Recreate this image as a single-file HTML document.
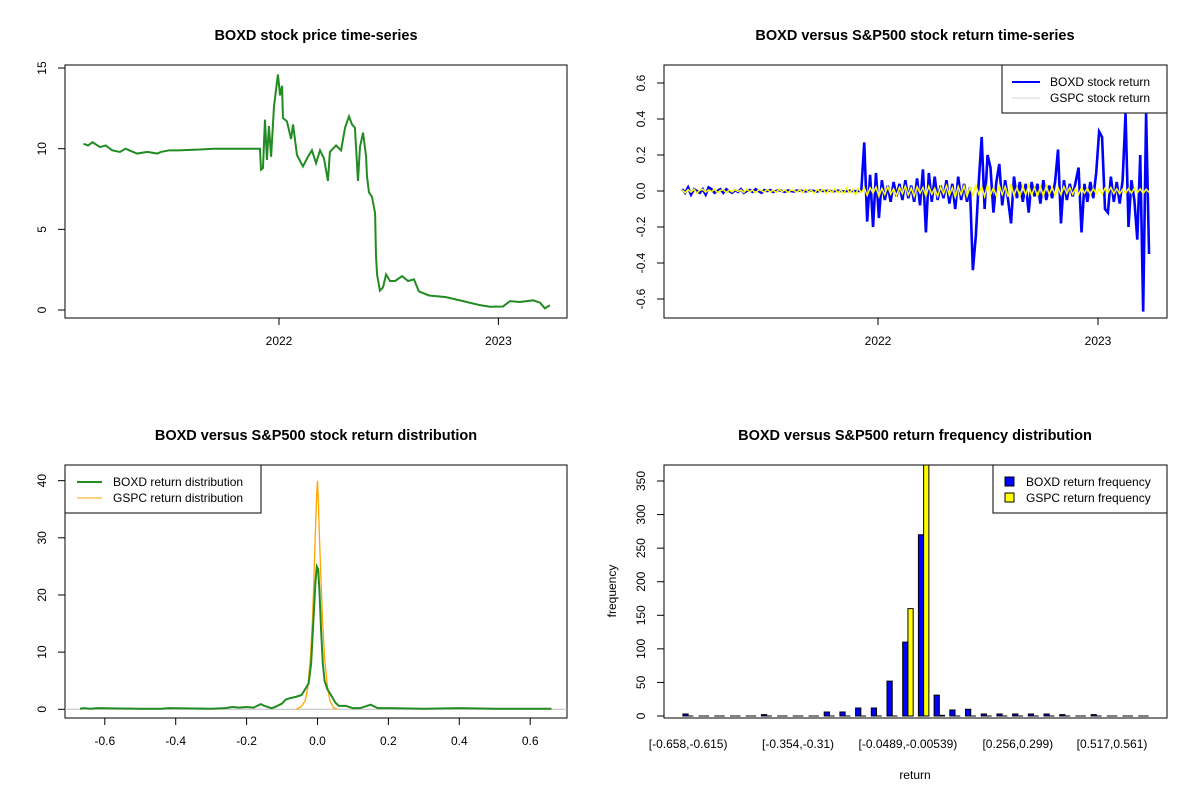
<!DOCTYPE html>
<html><head><meta charset="utf-8"><style>
html,body{margin:0;padding:0;background:#fff}
svg{display:block;font-family:"Liberation Sans",Arial,sans-serif}
</style></head><body>
<svg id="c" width="1200" height="800" viewBox="0 0 1200 800" xmlns="http://www.w3.org/2000/svg"></svg>
<script>
// ---------- Panel 1: price ----------
const priceDates=[2021.109,2021.130,2021.150,2021.184,2021.210,2021.240,2021.275,2021.300,2021.353,2021.400,2021.444,2021.462,2021.500,2021.540,2021.640,2021.700,2021.822,2021.913,2021.918,2021.927,2021.936,2021.945,2021.954,2021.964,2021.977,2021.995,2022.005,2022.014,2022.018,2022.036,2022.055,2022.064,2022.082,2022.109,2022.132,2022.150,2022.169,2022.187,2022.205,2022.223,2022.232,2022.260,2022.283,2022.301,2022.319,2022.333,2022.346,2022.360,2022.369,2022.383,2022.397,2022.401,2022.410,2022.424,2022.438,2022.442,2022.447,2022.460,2022.474,2022.488,2022.506,2022.529,2022.561,2022.588,2022.615,2022.638,2022.684,2022.761,2022.839,2022.916,2022.962,2023.021,2023.053,2023.098,2023.158,2023.190,2023.212,2023.235];
const priceValues=[10.3,10.2,10.4,10.1,10.2,9.9,9.8,10.0,9.7,9.8,9.7,9.8,9.9,9.9,9.95,10.0,10.0,10.0,8.7,8.8,11.8,9.3,11.4,9.5,12.6,14.6,13.3,13.9,11.9,11.7,10.6,11.5,9.6,8.9,9.5,9.9,9.1,9.9,9.4,8.0,9.8,10.2,9.9,11.3,12.0,11.5,11.3,8.0,10.1,11.0,9.5,8.3,7.3,7.0,6.0,3.4,2.2,1.2,1.4,2.2,1.8,1.8,2.1,1.8,1.9,1.15,0.9,0.8,0.55,0.3,0.2,0.22,0.55,0.5,0.6,0.45,0.1,0.3];
const priceYTicks=[0,5,10,15];
const yearTicks=[2022,2023];
// ---------- Panel 2: returns ----------
const retStart=2021.11, retEnd=2023.232;
const boxdReturns=[0.01,-0.01,0.02,-0.02,0.01,0,-0.01,0.01,-0.02,0.02,0.01,-0.01,0,0.01,-0.01,0.01,0,-0.01,0.005,-0.005,
0.01,-0.01,0,0.005,-0.005,0.01,0,-0.01,0.005,0,0.005,-0.005,0,0.005,0,-0.005,0.003,0,-0.003,0.002,
0.003,0,-0.002,0,0.002,0,-0.003,0.003,0,0,0.002,-0.002,0,0.002,0,-0.002,0,0.001,0,-0.001,0,0.001,
0.27,-0.17,0.09,-0.2,0.1,-0.15,0.06,-0.05,0.03,-0.06,0.05,-0.03,0.04,-0.05,0.06,-0.04,0.03,-0.06,0.07,-0.08,
0.12,-0.23,0.1,-0.06,0.08,-0.05,0.03,-0.04,0.06,-0.07,0.04,-0.1,0.08,-0.05,0.04,-0.06,0.02,-0.44,-0.25,0.05,
0.3,-0.1,0.2,0.13,-0.12,0.05,0.15,-0.08,0.06,-0.05,-0.18,0.08,-0.04,0.05,-0.06,0.04,-0.12,0.05,-0.03,0.04,
-0.07,0.06,-0.05,0.03,-0.04,0.05,0.23,-0.18,0.06,-0.05,0.04,-0.03,0.05,0.13,-0.23,0.04,-0.06,0.05,-0.04,0.1,
0.33,0.3,-0.1,-0.12,0.08,-0.06,0.05,-0.07,0.06,0.43,-0.2,0.06,-0.05,-0.27,0.2,-0.67,0.43,-0.35];
const gspcReturns=[0.005,-0.01,0.008,-0.006,0.01,-0.012,0.004,0.009,-0.007,0.006,-0.004,0.011,-0.009,0.003,0.007,-0.01,0.006,-0.005,0.008,-0.003,
0.006,-0.008,0.01,-0.004,0.005,-0.011,0.007,0.002,-0.006,0.009,-0.005,0.004,-0.008,0.01,-0.003,0.006,-0.009,0.005,0.003,-0.007,
0.008,-0.01,0.012,-0.006,0.004,-0.013,0.009,-0.005,0.011,-0.014,0.007,-0.008,0.013,-0.01,0.006,-0.015,0.018,-0.012,0.01,-0.02,0.015,-0.01,
0.02,-0.025,0.018,-0.012,0.022,-0.03,0.015,-0.02,0.025,-0.018,0.012,-0.026,0.02,-0.015,0.028,-0.022,0.017,-0.03,0.024,-0.012,
0.02,-0.028,0.026,-0.018,0.015,-0.03,0.022,-0.016,0.03,-0.024,0.018,-0.035,0.025,-0.02,0.028,-0.03,0.02,-0.025,0.032,-0.018,
0.024,-0.03,0.035,-0.022,0.018,-0.028,0.03,-0.02,0.025,-0.032,0.04,-0.026,0.02,-0.03,0.028,-0.022,0.034,-0.025,0.02,-0.03,
0.025,-0.028,0.03,-0.02,0.022,-0.025,0.018,-0.02,0.024,-0.015,0.02,-0.018,0.015,-0.02,0.018,-0.012,0.016,-0.02,0.014,-0.015,
0.012,-0.018,0.015,-0.01,0.02,-0.015,0.012,-0.016,0.01,-0.014,0.013,-0.012,0.016,-0.01,0.012,-0.014,0.01,-0.008];
const retYTicks=[-0.6,-0.4,-0.2,0.0,0.2,0.4,0.6];
// ---------- Panel 3: density ----------
const boxdDensX=[-0.67,-0.66,-0.64,-0.62,-0.5,-0.44,-0.42,-0.3,-0.26,-0.24,-0.22,-0.2,-0.18,-0.16,-0.15,-0.13,-0.12,-0.1,-0.09,-0.08,-0.06,-0.045,-0.035,-0.025,-0.018,-0.012,-0.006,-0.002,0.002,0.006,0.01,0.015,0.02,0.028,0.038,0.05,0.06,0.08,0.1,0.12,0.15,0.17,0.2,0.3,0.4,0.5,0.66];
const boxdDensY=[0.1,0.2,0.1,0.2,0.1,0.1,0.2,0.1,0.2,0.4,0.3,0.4,0.3,0.9,0.6,0.2,0.4,1.0,1.7,1.9,2.2,2.5,3.5,4.5,8,15,22,25,24.5,20,14,8,5,3.5,2.5,1.2,0.6,0.6,0.2,0.2,0.8,0.2,0.2,0.1,0.2,0.1,0.1];
const gspcDensX=[-0.06,-0.045,-0.035,-0.028,-0.02,-0.014,-0.009,-0.005,-0.002,0,0.002,0.005,0.009,0.014,0.02,0.028,0.035,0.045,0.055];
const gspcDensY=[0,0.5,1.5,3.5,9,16,25,33,38,40,37,31,24,16,9,4,1.5,0.3,0];
const densXTicks=[-0.6,-0.4,-0.2,0.0,0.2,0.4,0.6];
const densYTicks=[0,10,20,30,40];
// ---------- Panel 4: histogram ----------
const binLabels=["[-0.658,-0.615)","[-0.354,-0.31)","[-0.0489,-0.00539)","[0.256,0.299)","[0.517,0.561)"];
const binLabelIdx=[0,7,14,21,27];
const boxdFreq=[3,0,0,0,0,2,0,0,0,6,6,12,12,52,110,270,31,9,10,3,3,3,3,3,2,0,2,0,0,0];
const gspcFreq=[0,0,0,0,0,0,0,0,0,0,0,0,0,0,160,390,1,0,0,0,0,0,0,0,0,0,0,0,0,0];
const freqYTicks=[0,50,100,150,200,250,300,350];

const NS="http://www.w3.org/2000/svg";
const svg=document.getElementById('c');
function mk(tag,attrs,parent){const e=document.createElementNS(NS,tag);for(const k in attrs)e.setAttribute(k,attrs[k]);(parent||svg).appendChild(e);return e;}
function txt(s,x,y,opts,parent){const t=mk('text',Object.assign({x:x,y:y,'font-size':12,'text-anchor':'middle',fill:'#000'},opts||{}),parent);t.textContent=s;return t;}
function fmt(v,d){return v.toFixed(d);}

const defs=mk('defs',{});
[[1,65,65,502,253],[2,664,65,503,253],[3,65,465,502,253],[4,664,465,503,253]].forEach(c=>{const cp=mk('clipPath',{id:'cp'+c[0]},defs);mk('rect',{x:c[1],y:c[2],width:c[3],height:c[4]},cp);});

// ===== Panel 1 =====
{
const g=mk('g',{});

const L=65,T=65,R=567,B=318;
const xs=t=>279+(t-2022)*219.4, ys=v=>310-v*16.13;
const tt=txt('BOXD stock price time-series',316,40,{'font-weight':'bold','font-size':14.5},g);

mk('rect',{x:L,y:T,width:R-L,height:B-T,fill:'none',stroke:'#000','stroke-width':1},g);
mk('line',{x1:L,x2:L,y1:ys(0),y2:ys(15),stroke:'#000'},g);
priceYTicks.forEach(v=>{mk('line',{x1:L-7,x2:L,y1:ys(v),y2:ys(v),stroke:'#000'},g);
 const t=txt(String(v),0,0,{transform:`translate(46,${ys(v)}) rotate(-90)`},g);
 });
mk('line',{x1:xs(2022),x2:xs(2023),y1:B,y2:B,stroke:'#000'},g);
yearTicks.forEach(v=>{mk('line',{x1:xs(v),x2:xs(v),y1:B,y2:B+7,stroke:'#000'},g);
 const t=txt(String(v),xs(v),345,{},g);});
const p=mk('polyline',{points:priceDates.map((d,i)=>xs(d)+','+ys(priceValues[i])).join(' '),fill:'none',stroke:'#228B22','stroke-width':2,'clip-path':'url(#cp1)'},g);

}

// ===== Panel 2 =====
{
const g=mk('g',{});

const L=664,T=65,R=1167,B=318;
const xs=t=>878+(t-2022)*220, ys=v=>191-v*180;
const tdate=(i,n)=>retStart+(retEnd-retStart)*i/(n-1);
const tt=txt('BOXD versus S&P500 stock return time-series',915,40,{'font-weight':'bold','font-size':14.5},g);

mk('rect',{x:L,y:T,width:R-L,height:B-T,fill:'none',stroke:'#000'},g);
mk('line',{x1:L,x2:L,y1:ys(-0.6),y2:ys(0.6),stroke:'#000'},g);
retYTicks.forEach(v=>{mk('line',{x1:L-7,x2:L,y1:ys(v),y2:ys(v),stroke:'#000'},g);
 const t=txt(fmt(v,1),0,0,{transform:`translate(645,${ys(v)}) rotate(-90)`},g);
 });
mk('line',{x1:xs(2022),x2:xs(2023),y1:B,y2:B,stroke:'#000'},g);
yearTicks.forEach(v=>{mk('line',{x1:xs(v),x2:xs(v),y1:B,y2:B+7,stroke:'#000'},g);
 const t=txt(String(v),xs(v),345,{},g);});
const b=mk('polyline',{points:boxdReturns.map((v,i)=>xs(tdate(i,boxdReturns.length))+','+ys(v)).join(' '),fill:'none',stroke:'#0000FF','stroke-width':2.6,'clip-path':'url(#cp2)'},g);

const y=mk('polyline',{points:gspcReturns.map((v,i)=>xs(tdate(i,gspcReturns.length))+','+ys(v)).join(' '),fill:'none',stroke:'#FFFF00','stroke-width':1.5,'clip-path':'url(#cp2)'},g);

const lg=mk('g',{},g);
mk('rect',{x:1002,y:65,width:165,height:48,fill:'#fff',stroke:'#000'},lg);
mk('line',{x1:1012,x2:1040,y1:82,y2:82,stroke:'#0000FF','stroke-width':2},lg);
mk('line',{x1:1012,x2:1040,y1:98,y2:98,stroke:'#d3d3d3','stroke-width':1},lg);
txt('BOXD stock return',1050,86,{'text-anchor':'start'},lg);
txt('GSPC stock return',1050,102,{'text-anchor':'start'},lg);
}

// ===== Panel 3 =====
{
const g=mk('g',{});

const L=65,T=465,R=567,B=718;
const xs=v=>317.5+v*354.5, ys=v=>709.3-v*5.716;
const tt=txt('BOXD versus S&P500 stock return distribution',316,440,{'font-weight':'bold','font-size':14.5},g);

mk('rect',{x:L,y:T,width:R-L,height:B-T,fill:'none',stroke:'#000'},g);
mk('line',{x1:L,x2:L,y1:ys(0),y2:ys(40),stroke:'#000'},g);
densYTicks.forEach(v=>{mk('line',{x1:L-7,x2:L,y1:ys(v),y2:ys(v),stroke:'#000'},g);
 const t=txt(String(v),0,0,{transform:`translate(46,${ys(v)}) rotate(-90)`},g);
 });
mk('line',{x1:xs(-0.6),x2:xs(0.6),y1:B,y2:B,stroke:'#000'},g);
densXTicks.forEach(v=>{mk('line',{x1:xs(v),x2:xs(v),y1:B,y2:B+7,stroke:'#000'},g);
 const t=txt(fmt(v,1),xs(v),745,{},g);});
mk('line',{x1:L,x2:R,y1:ys(0),y2:ys(0),stroke:'#bebebe','stroke-width':1},g);
const o=mk('polyline',{points:gspcDensX.map((x,i)=>xs(x)+','+ys(gspcDensY[i])).join(' '),fill:'none',stroke:'#FFA500','stroke-width':1.3,'clip-path':'url(#cp3)'},g);

const gr=mk('polyline',{points:boxdDensX.map((x,i)=>xs(x)+','+ys(boxdDensY[i])).join(' '),fill:'none',stroke:'#228B22','stroke-width':2,'clip-path':'url(#cp3)'},g);

const lg=mk('g',{},g);
mk('rect',{x:65,y:465,width:196,height:48,fill:'#fff',stroke:'#000'},lg);
mk('line',{x1:77,x2:102,y1:482,y2:482,stroke:'#228B22','stroke-width':2},lg);
mk('line',{x1:77,x2:102,y1:498,y2:498,stroke:'#FFA500','stroke-width':1},lg);
txt('BOXD return distribution',113,486,{'text-anchor':'start'},lg);
txt('GSPC return distribution',113,502,{'text-anchor':'start'},lg);
}

// ===== Panel 4 =====
{
const g=mk('g',{});

const L=664,T=465,R=1167,B=718;
const step=15.7, bw=step/3, x0=682.9;
const ys=v=>716-v*0.6714;
const tt=txt('BOXD versus S&P500 return frequency distribution',915,440,{'font-weight':'bold','font-size':14.5},g);

freqYTicks.forEach(v=>{mk('line',{x1:L-7,x2:L,y1:ys(v),y2:ys(v),stroke:'#000'},g);
 const t=txt(String(v),0,0,{transform:`translate(645,${ys(v)}) rotate(-90)`},g);
 });
mk('line',{x1:L,x2:L,y1:ys(0),y2:ys(350),stroke:'#000'},g);
const bars=mk('g',{'clip-path':'url(#cp4)'},g);
const barPath=(x,v)=>`M${x},${ys(0)} V${ys(v)} H${x+bw} V${ys(0)} Z`;
boxdFreq.forEach((v,i)=>{const r=mk('path',{d:barPath(x0+i*step,v),fill:'#0000FF',stroke:'#000','stroke-width':1},bars);
 });
gspcFreq.forEach((v,i)=>{const r=mk('path',{d:barPath(x0+i*step+bw,v),fill:'#FFFF00',stroke:'#000','stroke-width':1},bars);
 });
mk('rect',{x:L,y:T,width:R-L,height:B-T,fill:'none',stroke:'#000'},g);
binLabels.forEach((s,k)=>{const t=txt(s,x0+binLabelIdx[k]*step+bw,748,{},g);
 });
const xl=txt('return',915,779,{},g);
const yl=txt('frequency',0,0,{transform:'translate(616,591) rotate(-90)'},g);
const lg=mk('g',{},g);
mk('rect',{x:993,y:465,width:174,height:48,fill:'#fff',stroke:'#000'},lg);
mk('rect',{x:1005,y:477,width:9,height:9,fill:'#0000FF',stroke:'#000'},lg);
mk('rect',{x:1005,y:493,width:9,height:9,fill:'#FFFF00',stroke:'#000'},lg);
txt('BOXD return frequency',1026,486,{'text-anchor':'start'},lg);
txt('GSPC return frequency',1026,502,{'text-anchor':'start'},lg);
}
</script>
</body></html>
